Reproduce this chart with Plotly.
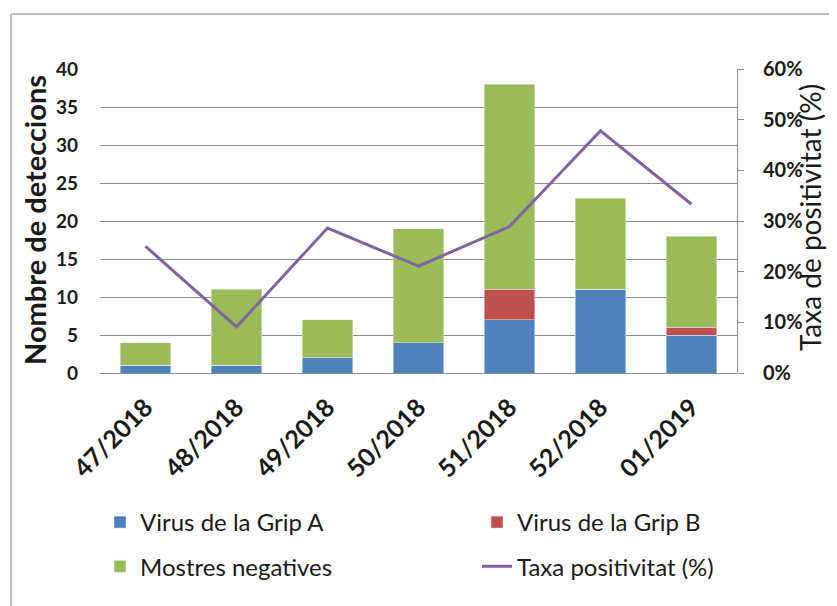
import plotly.graph_objects as go

weeks = ["47/2018", "48/2018", "49/2018", "50/2018", "51/2018", "52/2018", "01/2019"]
grip_a = [1, 1, 2, 4, 7, 11, 5]
grip_b = [0, 0, 0, 0, 4, 0, 1]
negatives = [3, 10, 5, 15, 27, 12, 12]
taxa = [0.25, 0.091, 0.286, 0.211, 0.289, 0.478, 0.333]

FONT = "Lato"
OFF = 8  # page body margin
W, H = 837 - OFF, 606 - OFF
# plot area in page pixels: x 100..737, y 69..373
L, R, T, B = 100 - OFF, 837 - 737, 69 - OFF, 606 - 373
PW, PH = W - L - R, H - T - B

def px(xp):  # page x -> paper
    return (xp - OFF - L) / PW

def py(yp):  # page y -> paper
    return (H - B - (yp - OFF)) / PH

fig = go.Figure()
fig.add_trace(go.Bar(x=weeks, y=grip_a, name="Virus de la Grip A", marker_color="#4F81BD",
                     legend="legend", legendgroup="a"))
fig.add_trace(go.Bar(x=weeks, y=grip_b, name="Virus de la Grip B", marker_color="#C0504D",
                     legend="legend2", legendgroup="b"))
fig.add_trace(go.Bar(x=weeks, y=negatives, name="Mostres negatives", marker_color="#9BBB59",
                     legend="legend", legendgroup="c"))
fig.add_trace(go.Scatter(x=weeks, y=taxa, name="Taxa positivitat (%)", mode="lines",
                         line=dict(color="#8064A2", width=3), yaxis="y2",
                         legend="legend2", legendgroup="d"))

legend_common = dict(xanchor="left", yanchor="top", orientation="v",
                     font=dict(size=24, family=FONT, color="#1a1a1a"),
                     traceorder="grouped", tracegroupgap=10, bgcolor="rgba(0,0,0,0)")

fig.update_layout(
    width=W, height=H,
    margin=dict(l=L, r=R, t=T, b=B),
    barmode="stack", bargap=0.44,
    plot_bgcolor="white", paper_bgcolor="white",
    font=dict(family=FONT, color="#1a1a1a"),
    xaxis=dict(tickangle=-45, tickfont=dict(size=25, family=FONT, weight="bold"),
               showline=False, ticks="", automargin=False, ticklabelstandoff=14),
    yaxis=dict(range=[0, 40], dtick=5, showgrid=True, gridcolor="#8c8c8c", gridwidth=1,
               zeroline=True, zerolinecolor="#8c8c8c", zerolinewidth=1, automargin=False,
               tickfont=dict(size=19, family=FONT, weight="bold"), ticks="", ticklabelstandoff=21),
    yaxis2=dict(range=[0, 0.6], dtick=0.1, tickformat=".0%", overlaying="y", side="right",
                showgrid=False, showline=True, linecolor="#8c8c8c", ticks="outside",
                ticklen=6, tickcolor="#8c8c8c", zeroline=False, automargin=False,
                tickfont=dict(size=20, family=FONT, weight="bold"), ticklabelstandoff=15),
    legend=dict(x=px(100), y=py(500), **legend_common),
    legend2=dict(x=px(477), y=py(500), **legend_common),
    showlegend=True,
)

fig.add_annotation(text="Nombre de deteccions", xref="paper", yref="paper",
                   x=px(34), y=py(220), xanchor="center", yanchor="middle",
                   textangle=-90, showarrow=False,
                   font=dict(size=29, family=FONT, weight="bold"))
fig.add_annotation(text="Taxa de positivitat (%)", xref="paper", yref="paper",
                   x=px(810), y=py(218), xanchor="center", yanchor="middle",
                   textangle=-90, showarrow=False,
                   font=dict(size=28, family=FONT))

# outer chart border (left and top edges visible)
fig.add_shape(type="line", xref="paper", yref="paper", x0=px(11), x1=px(11), y0=py(620), y1=py(14),
              line=dict(color="#a6a6a6", width=1.5))
fig.add_shape(type="line", xref="paper", yref="paper", x0=px(11), x1=px(850), y0=py(14), y1=py(14),
              line=dict(color="#a6a6a6", width=1.5))

fig.write_html("out.html")
